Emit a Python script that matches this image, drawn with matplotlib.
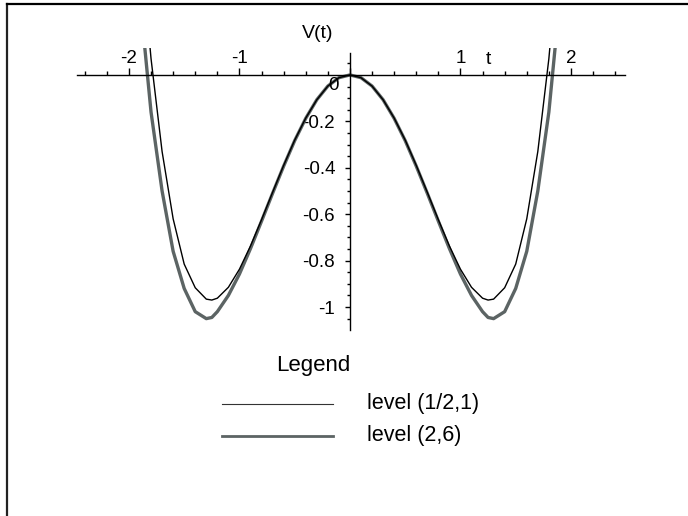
import matplotlib
matplotlib.use("Agg")
import matplotlib.pyplot as plt
from matplotlib.lines import Line2D
from matplotlib.ticker import MultipleLocator, FixedLocator, FixedFormatter
import matplotlib.transforms as mtrans

plt.rcParams['font.family'] = ['Liberation Sans', 'DejaVu Sans']

# ---- data ----
t_vals = [-2.0, -1.9, -1.8, -1.7, -1.6, -1.5, -1.4, -1.3, -1.25, -1.2, -1.1, -1.0,
          -0.9, -0.8, -0.7, -0.6, -0.5, -0.4, -0.3, -0.2, -0.1, 0.0,
          0.1, 0.2, 0.3, 0.4, 0.5, 0.6, 0.7, 0.8, 0.9,
          1.0, 1.1, 1.2, 1.25, 1.3, 1.4, 1.5, 1.6, 1.7, 1.8, 1.9, 2.0]
level_half_1 = [1.27, 0.60, 0.07, -0.33, -0.62, -0.815, -0.917, -0.966, -0.970, -0.962, -0.915, -0.837,
                -0.737, -0.624, -0.506, -0.390, -0.281, -0.186, -0.107, -0.048, -0.012, 0.0,
                -0.012, -0.048, -0.107, -0.186, -0.281, -0.390, -0.506, -0.624, -0.737,
                -0.837, -0.915, -0.962, -0.970, -0.966, -0.917, -0.815, -0.62, -0.33, 0.07, 0.60, 1.27]
level_2_6 = [1.00, 0.33, -0.16, -0.50, -0.76, -0.92, -1.02, -1.05, -1.045, -1.02, -0.95, -0.858,
             -0.748, -0.630, -0.510, -0.393, -0.283, -0.187, -0.107, -0.048, -0.012, 0.0,
             -0.012, -0.048, -0.107, -0.187, -0.283, -0.393, -0.510, -0.630, -0.748,
             -0.858, -0.95, -1.02, -1.045, -1.05, -1.02, -0.92, -0.76, -0.50, -0.16, 0.33, 1.00]
x_tick_vals = [-2, -1, 1, 2]
x_tick_labels = ['-2', '-1', '1', '2']
y_tick_vals = [-1.0, -0.8, -0.6, -0.4, -0.2]
y_tick_labels = ['-1', '-0.8', '-0.6', '-0.4', '-0.2']
series_labels = ['level (1/2,1)', 'level (2,6)']

W, H = 688, 516
fig = plt.figure(figsize=(W / 100, H / 100), dpi=100)

# axes placement (pixels): x 77..625, y 48..330
ax = fig.add_axes([77 / W, 1 - 330 / H, (625 - 77) / W, (330 - 48) / H])
ax.set_xlim(-2.47, 2.489)
ax.set_ylim(-1.099, 0.116)

thick_color = '#5c6464'
ax.plot(t_vals, level_2_6, color=thick_color, lw=2.4)
ax.plot(t_vals, level_half_1, color='black', lw=1.0)

for s in ['top', 'right']:
    ax.spines[s].set_visible(False)
ax.spines['left'].set_position(('data', 0))
ax.spines['bottom'].set_position(('data', 0))
ax.spines['left'].set_linewidth(1.0)
ax.spines['bottom'].set_linewidth(1.0)
ax.spines['left'].set_bounds(-1.099, 0.095)

# x ticks: point up, labels drawn above the axis
ax.xaxis.set_major_locator(FixedLocator([-2, -1, 0, 1, 2]))
ax.xaxis.set_minor_locator(MultipleLocator(0.2))
ax.tick_params(axis='x', which='major', direction='in', length=5, width=1, labelbottom=False)
ax.tick_params(axis='x', which='minor', direction='in', length=2.9, width=1)

up = mtrans.offset_copy(ax.transData, fig=fig, x=0, y=8, units='dots')
for v, lab in zip(x_tick_vals, x_tick_labels):
    ax.text(v, 0, lab, transform=up, ha='center', va='bottom', fontsize=13.5)

# y ticks: point left
ax.yaxis.set_major_locator(FixedLocator(y_tick_vals + [0.0]))
ax.yaxis.set_major_formatter(FixedFormatter(y_tick_labels + ['']))
ax.yaxis.set_minor_locator(FixedLocator([-1.05, -0.95, -0.9, -0.85, -0.75, -0.7, -0.65, -0.55, -0.5,
                                         -0.45, -0.35, -0.3, -0.25, -0.15, -0.1, -0.05, 0.05]))
ax.tick_params(axis='y', which='major', direction='out', length=3.6, width=1, labelsize=13.5, pad=7)
ax.tick_params(axis='y', which='minor', direction='out', length=2.2, width=1)
ax.text(-0.1, -0.047, '0', ha='right', va='center', fontsize=13.5)

# axis labels
fig.text(318 / W, 1 - 33 / H, 'V(t)', ha='center', va='center', fontsize=14)
fig.text(488 / W, 1 - 60 / H, 't', ha='center', va='center', fontsize=14)

# legend (drawn manually, Maple style)
fig.text(313 / W, 1 - 365 / H, 'Legend', ha='center', va='center', fontsize=16)
fig.add_artist(Line2D([222 / W, 333 / W], [1 - 404 / H, 1 - 404 / H], color='#333333', lw=0.8))
fig.add_artist(Line2D([222 / W, 333 / W], [1 - 436 / H, 1 - 436 / H], color=thick_color, lw=2.0))
fig.text(367 / W, 1 - 404 / H, series_labels[0], ha='left', va='center', fontsize=15.5)
fig.text(367 / W, 1 - 436 / H, series_labels[1], ha='left', va='center', fontsize=15.5)

# frame lines (left and top only, as in the reference)
fig.add_artist(Line2D([7 / W, 7 / W], [0, 1 - 4 / H], color='#222222', lw=1.6))
fig.add_artist(Line2D([7 / W, 1], [1 - 4 / H, 1 - 4 / H], color='black', lw=1.6))

fig.savefig('out.png', dpi=100)
